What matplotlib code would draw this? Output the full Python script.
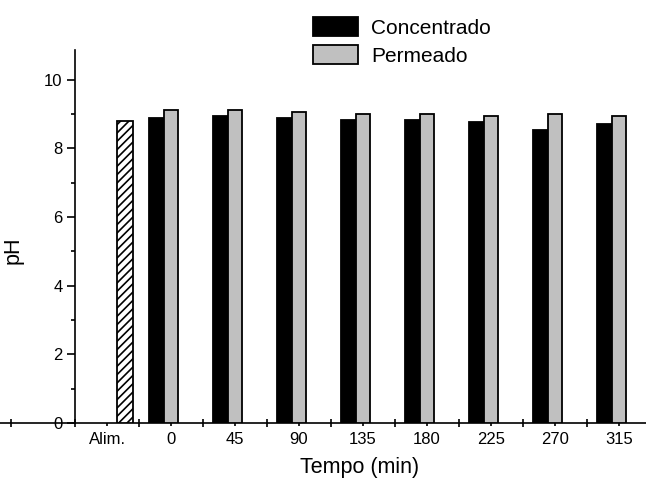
"""pH do concentrado e do permeado ao longo do tempo."""

import matplotlib

matplotlib.use("Agg")
import matplotlib.pyplot as plt
import numpy as np

plt.rcParams["font.family"] = ["Liberation Sans", "DejaVu Sans"]
plt.rcParams["hatch.linewidth"] = 1.2

tempos = ["0", "45", "90", "135", "180", "225", "270", "315"]
ph_alimentacao = 8.79
ph_concentrado = [8.88, 8.95, 8.88, 8.83, 8.83, 8.77, 8.54, 8.71]
ph_permeado = [9.13, 9.13, 9.06, 9.01, 9.01, 8.95, 9.01, 8.95]

fig = plt.figure(figsize=(6.46, 4.82), dpi=100)
ax = fig.add_axes([0.0, 59 / 482, 1.0, 373 / 482])

largura = 0.234
centros = np.arange(len(tempos)) + 1.5

ax.bar(0.78, ph_alimentacao, width=0.25, facecolor="white", edgecolor="black",
       hatch="////", linewidth=1.3, zorder=3)
ax.bar(centros - largura, ph_concentrado, width=largura, facecolor="black",
       edgecolor="black", linewidth=1.3, label="Concentrado", zorder=3)
ax.bar(centros, ph_permeado, width=largura, facecolor="#c0c0c0",
       edgecolor="black", linewidth=1.3, label="Permeado", zorder=3)

ax.set_xlim(-75 / 64, 571 / 64)
ax.set_ylim(0, 10.87)

ax.spines["top"].set_visible(False)
ax.spines["right"].set_visible(False)
ax.spines["left"].set_position(("data", 0))
for lado in ("left", "bottom"):
    ax.spines[lado].set_linewidth(1.2)

# eixo x: marcas maiores entre grupos, rótulos nas marcas menores
ax.set_xticks(np.arange(-1, 9))
ax.set_xticklabels([])
ax.set_xticks(np.arange(0, 9) + 0.5, minor=True)
ax.set_xticklabels(["Alim."] + tempos, minor=True)
ax.tick_params(axis="x", which="major", direction="inout", length=6, width=1.2)
ax.tick_params(axis="x", which="minor", direction="out", length=2.5, width=1.2,
               pad=4, labelsize=12)

ax.set_yticks(np.arange(0, 11, 2))
ax.set_yticks(np.arange(1, 10, 2), minor=True)
ax.tick_params(axis="y", which="major", direction="out", length=6, width=1.2,
               pad=3, labelsize=12)
ax.tick_params(axis="y", which="minor", direction="out", length=3, width=1.2)

ax.set_xlabel("Tempo (min)", fontsize=15.5)
ax.xaxis.set_label_coords(360 / 646, -34 / 373)
ax.set_ylabel("pH", fontsize=15.5)
ax.yaxis.set_label_coords(24 / 646, 173 / 373)

ax.legend(loc="upper left", bbox_to_anchor=(313 / 646, 1 - 17 / 482),
          bbox_transform=fig.transFigure, frameon=False, fontsize=15,
          handlelength=2.15, handleheight=1.05, handletextpad=0.65,
          labelspacing=0.35, borderpad=0, borderaxespad=0)

fig.savefig("out.png", dpi=100)
